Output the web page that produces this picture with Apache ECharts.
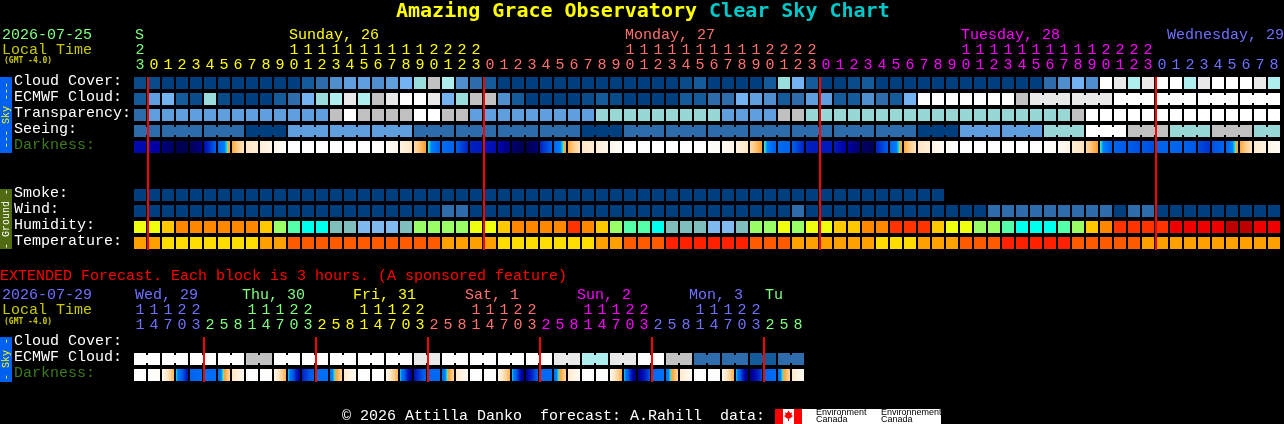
<!DOCTYPE html>
<html><head><meta charset="utf-8">
<style>html,body{margin:0;padding:0;background:#000;overflow:hidden}#c{width:1284px;height:424px}</style>
<script src="https://cdn.jsdelivr.net/npm/echarts@6/dist/echarts.min.js"></script>
</head><body><div id="c"></div>
<script>
// ---------- labels ----------
const rowNames = ['Cloud Cover:','ECMWF Cloud:','Transparency:','Seeing:','Darkness:','','','Smoke:','Wind:','Humidity:','Temperature:'];
const extRowNames = ['Cloud Cover:','ECMWF Cloud:','Darkness:'];
const hourUnits = '3 0 1 2 3 4 5 6 7 8 9 0 1 2 3 4 5 6 7 8 9 0 1 2 3 0 1 2 3 4 5 6 7 8 9 0 1 2 3 4 5 6 7 8 9 0 1 2 3 0 1 2 3 4 5 6 7 8 9 0 1 2 3 4 5 6 7 8 9 0 1 2 3 0 1 2 3 4 5 6 7 8'.split(' ');
const hourTens = '2 _ _ _ _ _ _ _ _ _ _ 1 1 1 1 1 1 1 1 1 1 2 2 2 2 _ _ _ _ _ _ _ _ _ _ 1 1 1 1 1 1 1 1 1 1 2 2 2 2 _ _ _ _ _ _ _ _ _ _ 1 1 1 1 1 1 1 1 1 1 2 2 2 2 _ _ _ _ _ _ _ _ _'.split(' ');
const hourColorIdx = [0].concat(Array(24).fill(1),Array(24).fill(2),Array(24).fill(3),Array(9).fill(4));
const dayNames = ['S','Sunday, 26','Monday, 27','Tuesday, 28','Wednesday, 29'];
const dayCols = [0,11,35,59,73.72];
const dayColorIdx = [0,1,2,3,4];
const extHourUnits = '1 4 7 0 3 2 5 8 1 4 7 0 3 2 5 8 1 4 7 0 3 2 5 8 1 4 7 0 3 2 5 8 1 4 7 0 3 2 5 8 1 4 7 0 3 2 5 8'.split(' ');
const extHourTens = '1 1 1 2 2 _ _ _ 1 1 1 2 2 _ _ _ 1 1 1 2 2 _ _ _ 1 1 1 2 2 _ _ _ 1 1 1 2 2 _ _ _ 1 1 1 2 2 _ _ _'.split(' ');
const extColorIdx = Array(5).fill(4).concat(Array(8).fill(0),Array(8).fill(1),Array(8).fill(2),Array(8).fill(3),Array(8).fill(4),Array(3).fill(0));
const extDayNames = ['Wed, 29','Thu, 30','Fri, 31','Sat, 1','Sun, 2','Mon, 3','Tu'];
const extDayCols = [0,7.64,15.57,23.57,31.57,39.57,45];
const extDayColorIdx = [4,0,1,2,3,4,0];
const midnightCols = [1,25,49,73];
const extMidnightCols = [5,13,21,29,37,45];

// ---------- main chart values, one per hour ----------
const cloudCover = [5,5,0,0,0,0,0,0,0,0,0,0,10,20,30,40,40,30,40,50,60,80,70,30,20,10,0,0,0,0,0,0,0,0,0,0,0,0,0,5,10,0,0,0,0,10,60,50,10,0,0,5,10,0,0,0,0,0,0,0,0,0,0,0,0,20,30,50,30,100,90,70,90,100,100,70,90,100,100,100,90,70];
const ecmwfCloud = [10,40,50,10,5,60,5,0,0,0,10,20,50,60,70,90,70,80,90,100,100,90,50,60,80,80,30,10,0,0,0,0,5,10,5,0,0,0,0,10,10,20,20,50,40,30,10,20,40,40,10,10,30,20,10,50,100,100,100,100,100,100,100,80,90,90,90,90,90,90,100,100,100,100,100,100,100,100,100,100,100,100];
const ecmwfBlocks = [1,1,1,1,1,1,1,1,1,1,1,1,1,1,1,1,1,1,1,1,1,1,1,1,1,1,1,1,1,1,1,1,1,1,1,1,1,1,1,1,1,1,1,1,1,1,1,1,1,1,1,1,1,1,1,1,1,1,1,1,1,1,1,1,3,3,3,3,3,3];
const transparency = [1,2,2,2,2,2,2,2,2,2,2,2,2,2,4,5,4,4,4,4,5,5,4,4,2,2,2,2,2,2,2,2,2,3,3,3,3,3,3,3,3,3,2,2,2,2,4,4,3,3,3,3,3,3,3,3,3,3,3,3,3,3,3,3,3,3,3,4,5,5,5,5,5,5,5,5,5,5,5,5,5,5];
const seeingBlockValues = [1,1,1,0,2,2,2,1,1,1,1,0,1,1,1,1,1,1,1,0,2,2,3,5,4,3,4,3];
const seeingBlockSizes = [2,3,3,3,3,3,3,3,3,3,3,3,3,3,3,3,3,3,3,3,3,3,3,3,3,3,3,2];
const darkness = [[7.7,7.8],[8,8.1],[8.7,9.4],[9.7,9.8],[9.6,8.6],[7.6,5.7],[5.6,3.6],[3.7,2],[2,1.6],[1.5,1],[1,.3],[0,0],[0,0],[0,0],[0,0],[0,0],[0,0],[.1,.2],[.4,1],[1.2,2],[2.4,3.9],[4,5.8],[5.3,5.6],[5.8,7],[7,7.2],[7.3,7.6],[7.8,8.8],[9,9.8],[9.8,8.8],[7,5.7],[5.6,3.6],[3.7,2],[2,1.6],[1.5,1],[1,.3],[0,0],[0,0],[0,0],[0,0],[0,0],[0,.1],[.2,.4],[.6,1],[1.2,2],[2.4,3.9],[4,5.8],[5.3,5.6],[5.8,7],[7,7.2],[7.2,7.2],[7.2,8],[8,9.2],[9.3,9.7],[7,5.8],[5.6,3.6],[3.7,2],[2,1.5],[1.2,.5],[.5,0],[0,0],[0,0],[0,0],[0,0],[0,0],[0,.1],[.2,.5],[.6,1.2],[1.5,2.2],[2.5,3.9],[4,5.8],[5.5,6],[5.8,6.2],[6,6.2],[5.6,5.6],[5.5,5.6],[5.6,6],[6.2,6.7],[6.2,5.5],[5.6,3.6],[3.7,2],[1.8,1.2],[1.1,.5]];
const smoke = [0,0,0,0,0,0,0,0,0,0,0,0,0,0,0,0,0,0,0,0,0,0,0,0,0,0,0,0,0,0,0,0,0,0,0,0,0,0,0,0,0,0,0,0,0,0,0,0,0,0,0,0,0,0,0,0,0,0];
const wind = [0,0,0,0,0,0,0,0,0,0,0,0,0,0,0,0,0,0,0,0,0,0,1,1,0,0,0,0,0,0,0,0,0,0,0,0,0,0,0,0,0,0,0,0,0,0,0,1,0,0,0,0,0,0,0,0,0,0,0,0,0,1,1,1,1,1,1,1,1,1,0,1,1,0,0,0,0,0,0,0,0,0];
const humidity = [67,67,72,77,77,77,77,77,77,72,62,57,52,52,47,47,42,42,42,47,62,62,62,62,67,67,72,77,77,77,77,82,77,72,62,57,57,52,47,47,47,42,42,47,62,62,67,62,67,67,72,72,77,77,82,82,82,72,67,67,62,62,57,52,52,52,57,62,72,77,82,82,82,82,87,87,87,87,92,92,87,87];
const temperature = [20,20,17,17,17,17,17,17,17,20,20,23,23,23,23,23,23,23,23,23,23,23,20,20,20,20,17,17,17,17,17,17,17,20,20,23,23,23,26,26,26,26,26,26,23,23,23,20,20,20,20,20,20,17,17,17,20,20,20,23,23,23,26,26,26,26,26,23,23,23,23,23,20,20,20,20,20,20,20,20,20,20];

// ---------- extended forecast values, one per 3 h block ----------
const extEcmwf = [100,100,100,100,100,100,100,100,80,80,100,100,100,100,100,100,100,100,100,100,90,90,100,100,100,100,100,100,100,100,90,90,70,70,90,90,100,100,80,80,20,20,20,20,10,10,20,20];
const extBlocks = [2,2,2,2,2,2,2,2,2,2,2,2,2,2,2,2,2,2,2,2,2,2,2,2];
const extDarkness = [[0,0],[.1,.4],[.8,3.5],[4.1,7.5],[5.6,5.2],[5.2,5.2],[5.2,2.6],[2,.8],[0,0],[0,.2],[1,3.6],[4.1,8.4],[7,5.5],[5.2,5.1],[5,2.6],[1.8,.6],[0,0],[0,.2],[1,3.6],[4.1,8.8],[7.4,5.5],[5.4,5.4],[5.2,2.6],[1.8,.6],[0,0],[0,.2],[1,3.6],[4.1,9],[8.2,5.6],[5.4,5.3],[5,2.6],[1.8,.6],[0,0],[0,.2],[1,3.6],[4.1,9.2],[8.6,6],[5.4,5],[5,2.6],[1.8,.6],[0,0],[0,.2],[1,3.6],[4.1,9.2],[8.8,6.2],[5.6,5.2],[5,2.6],[1.8,.6]];

// ---------- colour scales ----------
const dayColors = ['#80ff80','#ffff00','#ff7070','#ff00ff','#7070ff'];
const cloudColors = {0:'#003f7f',5:'#0a4c8a',10:'#135b9b',20:'#2e6cab',30:'#4f8fcf',40:'#5f9fe0',50:'#73b3f3',60:'#99dddd',70:'#aeeeee',80:'#c2c2c2',90:'#e9e9e9',100:'#ffffff'};
const skyColors = ['#003f7f','#2c6cab','#5f9fe0','#99d7d7','#c0c0c0','#ffffff'];
const windColors = ['#003f7f','#2e6cab'];
const humidityColors = {42:'#80b8f0',47:'#80bebe',52:'#00ffee',57:'#55ffaa',62:'#99ff66',67:'#eeff10',72:'#ffc800',77:'#ff8800',82:'#ff3300',87:'#ee0000',92:'#bb0000'};
const tempColors = {17:'#ffdd00',20:'#ffa000',23:'#ff5a00',26:'#ff2000'};
const darkStops = [[0,[255,255,255]],[1,[255,246,234]],[2,[255,230,196]],[3,[255,200,128]],[3.8,[255,160,48]],[4,[160,208,128]],[4.2,[0,216,240]],[4.5,[0,128,255]],[6,[0,88,232]],[7,[0,32,192]],[8,[0,0,168]],[9,[0,0,112]],[10,[0,0,72]]];
function darkColor(v){
  for(let i=1;i<darkStops.length;i++){
    if(v<=darkStops[i][0]){
      const a=darkStops[i-1],b=darkStops[i],t=(v-a[0])/(b[0]-a[0]);
      return 'rgb('+a[1].map((c,k)=>Math.round(c+(b[1][k]-c)*t)).join(',')+')';
    }
  }
  return 'rgb(0,0,72)';
}
const expand=(vals,sizes)=>vals.flatMap((v,i)=>Array(sizes[i]).fill(v));
function joins(sizes){const out=[];sizes.forEach(s=>{for(let k=0;k<s;k++)out.push(k<s-1?1:0);});return out;}

// ---------- series builders ----------
function cellSeries(name,values,row,colorOf,blocks,xi,yi){
  const j=blocks?joins(blocks):[];
  return {name,type:'custom',xAxisIndex:xi,yAxisIndex:yi,silent:true,animation:false,z:2,
    data:values.map((v,i)=>[i,row,i,j[i]||0]),
    renderItem(params,api){
      const i=api.value(2),c=api.coord([i,row]),s=api.size([1,1]);
      const w=s[0]-2,h=s[1]-4,x=c[0]-w/2,y=c[1]-h/2,fill=colorOf(values[i]);
      const kids=[{type:'rect',shape:{x,y,width:w,height:h},style:{fill}}];
      if(api.value(3))kids.push({type:'rect',shape:{x:x+w,y:y+2,width:2,height:h-4},style:{fill}});
      return {type:'group',children:kids};
    }};
}
function darkSeries(name,pairs,row,xi,yi){
  return cellSeries(name,pairs,row,p=>{
    const n=24,colorStops=[];
    for(let k=0;k<=n;k++)colorStops.push({offset:k/n,color:darkColor(p[0]+(p[1]-p[0])*k/n)});
    return {type:'linear',x:0,y:0,x2:1,y2:0,colorStops};
  },null,xi,yi);
}
function lineSeries(cols,y0,y1,xi,yi,name){
  return {name,type:'custom',xAxisIndex:xi,yAxisIndex:yi,silent:true,animation:false,z:5,
    data:cols.map(c=>[c,0]),
    renderItem(params,api){
      const c=api.coord([api.value(0),0]),s=api.size([1,1]);
      return {type:'rect',shape:{x:c[0]-s[0]/2,y:y0,width:2,height:y1-y0},style:{fill:'#ff0000'}};
    }};
}
function dayLabelSeries(names,cols,idx,dy,xi,yi,name){
  return {name,type:'custom',xAxisIndex:xi,yAxisIndex:yi,silent:true,animation:false,z:3,
    data:cols.map((c,i)=>[c,0,i]),
    renderItem(params,api){
      const i=api.value(2),c=api.coord([api.value(0),0]);
      return {type:'text',x:c[0]-5,y:dy,style:{text:names[i],fill:dayColors[idx[i]],font:FONT,textVerticalAlign:'middle',textBaseline:'middle'}};
    }};
}
const FONT='15px "Liberation Mono"';
function txt(x,y,text,fill,font,rot){
  const o={type:'text',x,y,z:10,silent:true,style:{text,fill,font:font||FONT,verticalAlign:'middle',textVerticalAlign:'middle'}};
  if(rot){o.rotation=rot;o.style.align='center';o.style.textAlign='center';}
  return o;
}
function hourAxis(grid,data,colorIdx,offset){
  return {type:'category',gridIndex:grid,position:'top',offset,data,boundaryGap:true,
    axisLine:{show:false},axisTick:{show:false},splitLine:{show:false},
    axisLabel:{show:true,interval:0,margin:2,hideOverlap:false,fontFamily:'Liberation Mono',fontSize:15,
      formatter:v=>v==='_'?'':v,
      color:(v,i)=>dayColors[colorIdx[i]]}};
}
function rowAxis(grid,data){
  return {type:'category',gridIndex:grid,inverse:true,data,
    axisLine:{show:false},axisTick:{show:false},splitLine:{show:false},
    axisLabel:{show:true,interval:0,margin:119,align:'left',
      formatter:v=>v?'{a|'+v+'}\n{b|}':'',
      rich:{a:{fontFamily:'Liberation Mono',fontSize:15,lineHeight:15,align:'left'},b:{fontSize:1,lineHeight:4,align:'left'}},
      color:v=>v==='Darkness:'?'#3c7a1c':'#ffffff'}};
}
const valueAxis=(grid,n)=>({type:'value',gridIndex:grid,position:'bottom',min:-0.5,max:n-0.5,show:false});

const seeing=expand(seeingBlockValues,seeingBlockSizes);
const cc=v=>cloudColors[v], sc=v=>skyColors[v];
const titleFont={fontFamily:'DejaVu Sans Mono',fontWeight:'bold',fontSize:20};
const option={
  backgroundColor:'#000',animation:false,
  title:{left:396,top:2,padding:0,text:'{a|Amazing Grace Observatory }{b|Clear Sky Chart}',
    textStyle:{rich:{a:Object.assign({color:'#ffff00'},titleFont),b:Object.assign({color:'#00c8c8'},titleFont)}}},
  grid:[{left:133,top:75,width:1148,height:176},{left:133,top:335,width:672,height:48}],
  xAxis:[valueAxis(0,82),hourAxis(0,hourUnits,hourColorIdx,0),hourAxis(0,hourTens,hourColorIdx,15),
         valueAxis(1,48),hourAxis(1,extHourUnits,extColorIdx,0),hourAxis(1,extHourTens,extColorIdx,15)],
  yAxis:[rowAxis(0,rowNames),rowAxis(1,extRowNames)],
  series:[
    cellSeries('Cloud Cover',cloudCover,0,cc,null,0,0),
    cellSeries('ECMWF Cloud',ecmwfCloud,1,cc,ecmwfBlocks,0,0),
    cellSeries('Transparency',transparency,2,sc,null,0,0),
    cellSeries('Seeing',seeing,3,sc,seeingBlockSizes,0,0),
    darkSeries('Darkness',darkness,4,0,0),
    cellSeries('Smoke',smoke,7,v=>windColors[v],null,0,0),
    cellSeries('Wind',wind,8,v=>windColors[v],null,0,0),
    cellSeries('Humidity',humidity,9,v=>humidityColors[v],null,0,0),
    cellSeries('Temperature',temperature,10,v=>tempColors[v],null,0,0),
    lineSeries(midnightCols,77,250,0,0,'Midnight'),
    dayLabelSeries(dayNames,dayCols,dayColorIdx,35,0,0,'Days'),
    cellSeries('Ext ECMWF',extEcmwf,1,cc,extBlocks,3,1),
    darkSeries('Ext Darkness',extDarkness,2,3,1),
    lineSeries(extMidnightCols,337,382,3,1,'Ext midnight'),
    dayLabelSeries(extDayNames,extDayCols,extDayColorIdx,295,3,1,'Ext days')
  ],
  graphic:[
    txt(2,35,'2026-07-25','#80ff80'),
    txt(2,50,'Local Time','#c8c800'),
    txt(4,61,'(GMT -4.0)','#c8c800','bold 8px "DejaVu Sans Mono"'),
    {type:'rect',z:9,silent:true,shape:{x:0,y:77,width:12,height:76},style:{fill:'#0060f0'}},
    txt(6,115,'--- Sky ---','#ffff00','10px "Liberation Mono"',Math.PI/2),
    {type:'rect',z:9,silent:true,shape:{x:0,y:189,width:12,height:60},style:{fill:'#4f6a10'}},
    txt(6,219,'- Ground -','#ffffff','10px "Liberation Mono"',Math.PI/2),
    txt(0,276,'EXTENDED Forecast. Each block is 3 hours. (A sponsored feature)','#ff0000'),
    txt(2,295,'2026-07-29','#7070ff'),
    txt(2,310,'Local Time','#c8c800'),
    txt(4,322,'(GMT -4.0)','#c8c800','bold 8px "DejaVu Sans Mono"'),
    {type:'rect',z:9,silent:true,shape:{x:0,y:337,width:12,height:45},style:{fill:'#0060f0'}},
    txt(6,359,'- Sky -','#ffff00','10px "Liberation Mono"',Math.PI/2),
    txt(342,416,'\u00a9 2026 Attilla Danko  forecast: A.Rahill  data:','#ffffff'),
    {type:'rect',z:9,silent:true,shape:{x:775,y:409,width:166,height:15},style:{fill:'#ffffff'}},
    {type:'rect',z:10,silent:true,shape:{x:775,y:409,width:8,height:15},style:{fill:'#ff0000'}},
    {type:'rect',z:10,silent:true,shape:{x:794,y:409,width:8,height:15},style:{fill:'#ff0000'}},
    {type:'polygon',z:10,silent:true,shape:{points:[[788.5,410.5],[790,413],[792,412.5],[791.5,415],[793,416],[790,418.5],[789,418.5],[789,421],[788,421],[788,418.5],[787,418.5],[784,416],[785.5,415],[785,412.5],[787,413]]},style:{fill:'#ff0000'}},
    txt(816,413,'Environment','#000000','9px "Liberation Sans"'),
    txt(816,420,'Canada','#000000','9px "Liberation Sans"'),
    txt(881,413,'Environnement','#000000','9px "Liberation Sans"'),
    txt(881,420,'Canada','#000000','9px "Liberation Sans"')
  ]
};
const chart=echarts.init(document.getElementById('c'),null,{renderer:'canvas',width:1284,height:424});
chart.setOption(option);
</script></body></html>
